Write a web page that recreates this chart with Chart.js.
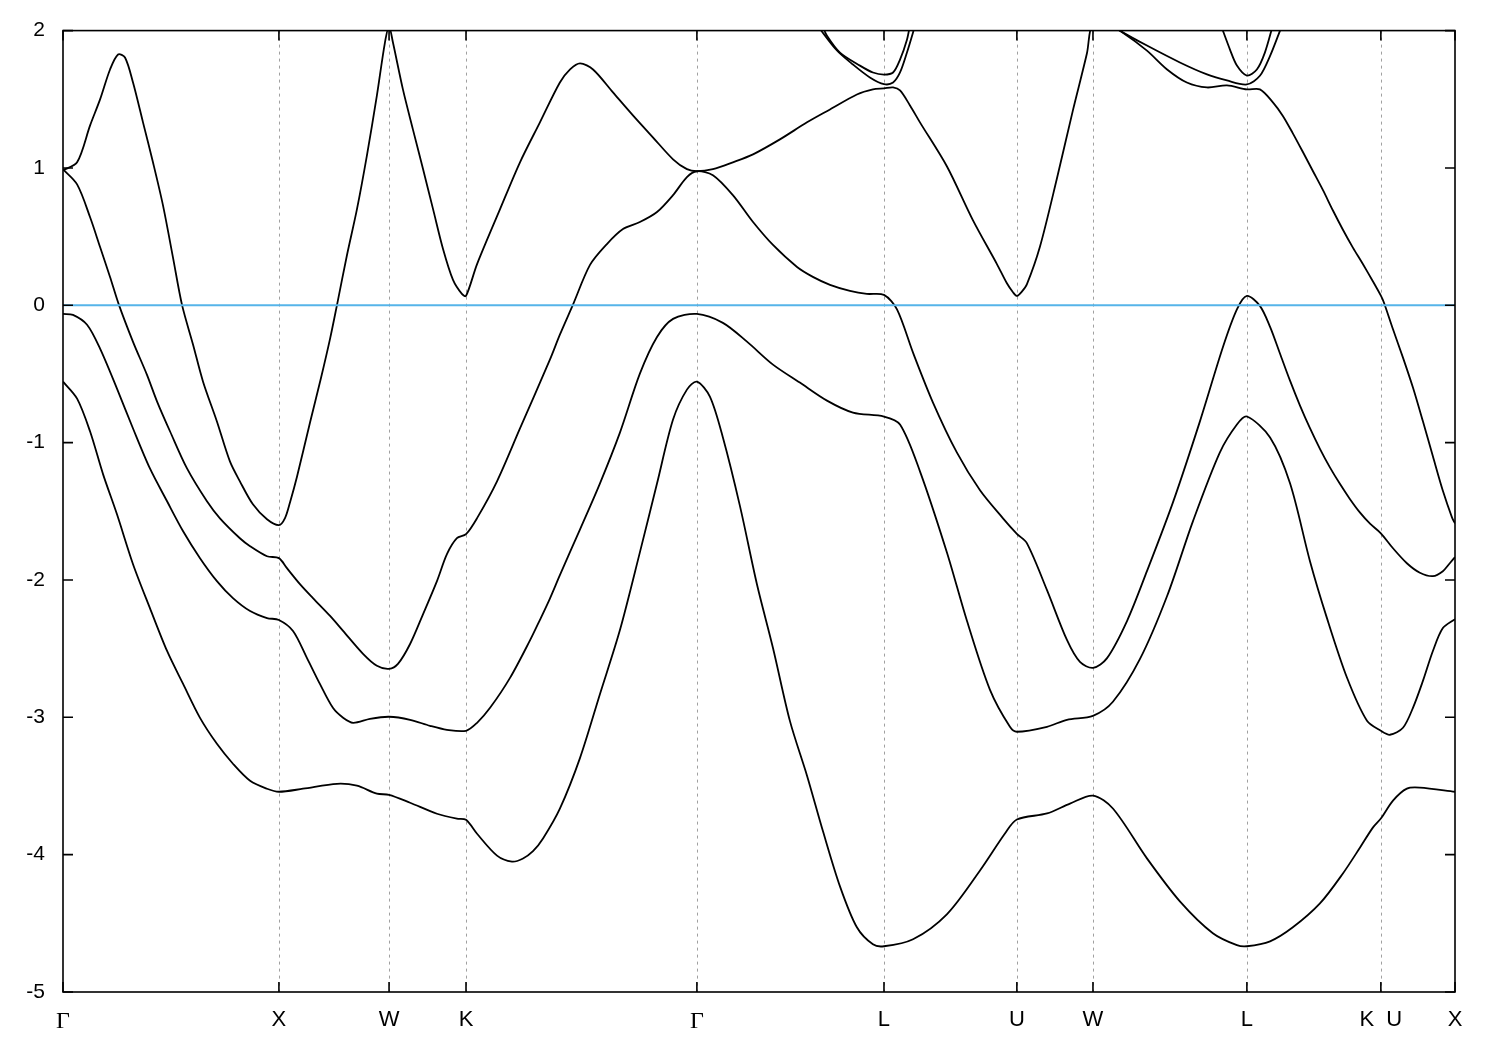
<!DOCTYPE html>
<html>
<head>
<meta charset="utf-8">
<title>Band structure</title>
<script src="https://cdn.jsdelivr.net/npm/chart.js@4.4.1/dist/chart.umd.min.js"></script>
<style>
  body { margin: 0; background: #fff; }
  #wrap { width: 1500px; height: 1050px; }
</style>
</head>
<body>
<div id="wrap"><canvas id="bands" width="1500" height="1050"></canvas></div>
<script>
// high-symmetry points along the path (k in 2pi/a)
const kTicks = [0, 0.996, 1.504, 1.859, 2.924, 3.787, 4.400, 4.751, 5.461, 6.079, 6.421];
const kLabels = ['Γ', 'X', 'W', 'K', 'Γ', 'L', 'U', 'W', 'L', 'K  U', 'X'];
const energyTicks = [-5, -4, -3, -2, -1, 0, 1, 2];
const fermiLevel = 0;

// bands as [k, E(eV)]
const band1 = [
  [0,-0.556],[0.065,-0.68],[0.125,-0.919],[0.185,-1.231],[0.249,-1.522],[0.323,-1.885],[0.401,-2.205],[0.48,-2.517],[0.554,-2.757],[0.632,-3.004],[0.71,-3.193],[0.784,-3.338],[0.863,-3.462],[0.941,-3.52],[0.996,-3.542],
  [1.107,-3.52],[1.264,-3.484],[1.356,-3.498],[1.448,-3.556],[1.504,-3.564],[1.601,-3.622],[1.725,-3.702],[1.817,-3.738],[1.859,-3.746],
  [1.91,-3.848],[2.002,-4.007],[2.071,-4.051],[2.12,-4.03],[2.168,-3.975],[2.215,-3.88],[2.292,-3.665],[2.385,-3.295],[2.477,-2.83],[2.569,-2.365],[2.661,-1.799],[2.74,-1.298],[2.814,-0.832],[2.878,-0.614],[2.924,-0.556],
  [2.984,-0.665],[3.044,-0.963],[3.123,-1.464],[3.201,-2.031],[3.275,-2.495],[3.353,-3.026],[3.432,-3.425],[3.506,-3.832],[3.584,-4.231],[3.662,-4.529],[3.736,-4.653],[3.787,-4.667],
  [3.921,-4.616],[4.077,-4.434],[4.23,-4.115],[4.345,-3.846],[4.4,-3.744],[4.539,-3.7],[4.645,-3.628],[4.751,-3.57],
  [4.843,-3.664],[5.0,-4.027],[5.152,-4.34],[5.304,-4.572],[5.415,-4.659],[5.461,-4.667],
  [5.568,-4.631],[5.673,-4.529],[5.798,-4.355],[5.904,-4.137],[5.983,-3.948],[6.042,-3.803],[6.079,-3.737],[6.135,-3.606],[6.199,-3.519],[6.259,-3.512],[6.421,-3.542]
];
const band2 = [
  [0,-0.063],[0.046,-0.07],[0.111,-0.142],[0.171,-0.316],[0.249,-0.607],[0.323,-0.897],[0.401,-1.188],[0.48,-1.427],[0.554,-1.645],[0.632,-1.841],[0.71,-2.008],[0.784,-2.132],[0.863,-2.226],[0.941,-2.277],[0.996,-2.291],
  [1.061,-2.371],[1.125,-2.567],[1.185,-2.757],[1.245,-2.931],[1.292,-3.003],[1.338,-3.04],[1.416,-3.011],[1.504,-2.996],[1.601,-3.018],[1.693,-3.062],[1.771,-3.091],[1.859,-3.098],
  [1.91,-3.04],[1.97,-2.931],[2.062,-2.713],[2.154,-2.44],[2.2,-2.29],[2.246,-2.135],[2.292,-1.965],[2.385,-1.631],[2.477,-1.296],[2.569,-0.927],[2.661,-0.498],[2.74,-0.231],[2.814,-0.099],[2.924,-0.063],
  [3.044,-0.128],[3.155,-0.265],[3.275,-0.432],[3.399,-0.563],[3.524,-0.694],[3.644,-0.781],[3.787,-0.81],
  [3.861,-0.868],[3.953,-1.209],[4.077,-1.798],[4.17,-2.299],[4.276,-2.8],[4.368,-3.069],[4.4,-3.105],[4.539,-3.069],[4.631,-3.018],[4.751,-2.989],
  [4.843,-2.887],[4.968,-2.575],[5.093,-2.117],[5.212,-1.573],[5.336,-1.072],[5.415,-0.868],[5.461,-0.81],
  [5.568,-0.962],[5.66,-1.296],[5.752,-1.863],[5.83,-2.276],[5.923,-2.712],[6.015,-3.025],[6.079,-3.098],[6.121,-3.127],[6.181,-3.076],[6.227,-2.931],[6.273,-2.735],[6.319,-2.517],[6.365,-2.35],[6.421,-2.285]
];
const band3 = [
  [0,0.99],[0.065,0.88],[0.125,0.641],[0.171,0.424],[0.217,0.206],[0.258,0.003],[0.323,-0.266],[0.387,-0.505],[0.434,-0.701],[0.494,-0.919],[0.572,-1.188],[0.664,-1.427],[0.724,-1.551],[0.816,-1.696],[0.863,-1.754],[0.941,-1.827],[0.996,-1.841],
  [1.033,-1.914],[1.093,-2.03],[1.153,-2.132],[1.232,-2.262],[1.292,-2.371],[1.384,-2.538],[1.448,-2.625],[1.504,-2.647],[1.545,-2.611],[1.601,-2.466],[1.661,-2.248],[1.725,-2.008],[1.771,-1.812],[1.817,-1.696],[1.859,-1.667],
  [1.91,-1.55],[2.002,-1.282],[2.108,-0.897],[2.246,-0.396],[2.292,-0.214],[2.352,0.003],[2.431,0.294],[2.509,0.446],[2.583,0.555],[2.661,0.606],[2.74,0.679],[2.814,0.802],[2.878,0.933],[2.924,0.976],
  [2.998,0.947],[3.09,0.802],[3.183,0.606],[3.275,0.439],[3.386,0.279],[3.459,0.207],[3.538,0.149],[3.63,0.105],[3.708,0.083],[3.787,0.076],
  [3.847,-0.03],[3.921,-0.345],[4.013,-0.708],[4.123,-1.071],[4.23,-1.347],[4.336,-1.551],[4.4,-1.664],[4.446,-1.732],[4.539,-2.074],[4.631,-2.437],[4.691,-2.597],[4.751,-2.64],
  [4.815,-2.571],[4.908,-2.299],[5.0,-1.936],[5.12,-1.435],[5.244,-0.847],[5.351,-0.302],[5.415,-0.03],[5.461,0.068],
  [5.521,-0.004],[5.568,-0.157],[5.614,-0.353],[5.66,-0.549],[5.706,-0.73],[5.752,-0.895],[5.798,-1.045],[5.844,-1.18],[5.89,-1.3],[5.936,-1.41],[5.983,-1.51],[6.029,-1.59],[6.079,-1.66],[6.135,-1.769],[6.199,-1.878],[6.259,-1.947],[6.319,-1.972],[6.365,-1.936],[6.397,-1.878],[6.421,-1.834]
];
const band4 = [
  [0,0.983],[0.065,1.041],[0.125,1.31],[0.171,1.499],[0.217,1.717],[0.254,1.826],[0.286,1.804],[0.323,1.622],[0.369,1.332],[0.415,1.041],[0.461,0.729],[0.507,0.351],[0.549,0.003],[0.6,-0.287],[0.646,-0.556],[0.71,-0.846],[0.77,-1.137],[0.816,-1.282],[0.876,-1.449],[0.941,-1.558],[0.996,-1.601],
  [1.024,-1.55],[1.048,-1.43],[1.079,-1.25],[1.14,-0.85],[1.19,-0.53],[1.232,-0.243],[1.264,0.003],[1.31,0.366],[1.356,0.7],[1.402,1.092],[1.448,1.528],[1.485,1.913],[1.504,2.03],
  [1.522,1.913],[1.568,1.572],[1.614,1.281],[1.661,0.991],[1.707,0.7],[1.753,0.41],[1.799,0.185],[1.84,0.083],[1.859,0.068],
  [1.91,0.3],[2.016,0.7],[2.108,1.041],[2.2,1.332],[2.292,1.622],[2.339,1.717],[2.385,1.761],[2.445,1.717],[2.537,1.55],[2.629,1.383],[2.721,1.223],[2.814,1.063],[2.878,0.991],[2.924,0.976],
  [2.998,0.991],[3.09,1.041],[3.183,1.099],[3.307,1.208],[3.432,1.332],[3.538,1.426],[3.662,1.535],[3.736,1.572],[3.787,1.579],
  [3.829,1.586],[3.861,1.564],[3.907,1.455],[3.953,1.332],[4.077,1.012],[4.197,0.62],[4.308,0.3],[4.354,0.16],[4.382,0.095],[4.4,0.068],
  [4.423,0.1],[4.446,0.152],[4.506,0.424],[4.585,0.925],[4.659,1.423],[4.723,1.833],[4.751,2.06],
  [4.82,2.04],[4.889,1.985],[5.0,1.854],[5.093,1.717],[5.184,1.622],[5.277,1.586],[5.369,1.601],[5.461,1.572],
  [5.521,1.572],[5.581,1.478],[5.627,1.379],[5.673,1.252],[5.72,1.114],[5.766,0.976],[5.812,0.838],[5.858,0.69],[5.904,0.55],[5.95,0.42],[5.996,0.3],[6.042,0.175],[6.079,0.07],[6.093,0.02],[6.135,-0.175],[6.181,-0.381],[6.227,-0.599],[6.273,-0.845],[6.319,-1.1],[6.365,-1.351],[6.407,-1.544],[6.421,-1.588]
];
// upper bands only show up around the L points
const band5a = [[3.483,2.03],[3.57,1.855],[3.644,1.753],[3.722,1.659],[3.787,1.61],[3.829,1.622],[3.861,1.695],[3.893,1.84],[3.921,1.986],[3.93,2.04]];
const band5b = [[4.751,2.12],[4.875,2.0],[5.0,1.891],[5.152,1.768],[5.277,1.681],[5.369,1.637],[5.461,1.608],[5.521,1.671],[5.568,1.816],[5.614,2.0],[5.632,2.07]];
const band6a = [[3.501,2.04],[3.524,1.963],[3.584,1.84],[3.676,1.745],[3.736,1.695],[3.787,1.68],[3.829,1.695],[3.861,1.789],[3.893,1.934],[3.907,2.04]];
const band6b = [[5.341,2.04],[5.383,1.862],[5.415,1.746],[5.461,1.673],[5.507,1.717],[5.544,1.84],[5.581,2.04]];

const allBands = [band1, band2, band3, band4, band5a, band5b, band6a, band6b];

const toPoints = arr => arr.map(p => ({ x: p[0], y: p[1] }));

const datasets = allBands.map(b => ({
  data: toPoints(b),
  borderColor: '#000',
  borderWidth: 1.8,
  pointRadius: 0,
  fill: false,
  tension: 0.3,
  order: 2
}));

// Fermi level
datasets.push({
  data: [{ x: kTicks[0], y: fermiLevel }, { x: kTicks[kTicks.length - 1], y: fermiLevel }],
  borderColor: '#56b4e9',
  borderWidth: 2,
  pointRadius: 0,
  fill: false,
  order: 1
});

const framePlugin = {
  id: 'frame',
  beforeDatasetsDraw(chart) {
    const { ctx, chartArea: a, scales: { x } } = chart;
    ctx.save();
    ctx.strokeStyle = '#a0a0a0';
    ctx.lineWidth = 1;
    ctx.setLineDash([3, 4]);
    kTicks.slice(1, -1).forEach(k => {
      const px = Math.round(x.getPixelForValue(k)) + 0.5;
      ctx.beginPath();
      ctx.moveTo(px, a.top);
      ctx.lineTo(px, a.bottom);
      ctx.stroke();
    });
    ctx.restore();
  },
  afterDatasetsDraw(chart) {
    const { ctx, chartArea: a, scales: { x, y } } = chart;
    const len = 10;
    ctx.save();
    ctx.strokeStyle = '#000';
    ctx.lineWidth = 1.6;
    ctx.strokeRect(a.left, a.top, a.right - a.left, a.bottom - a.top);
    ctx.beginPath();
    energyTicks.forEach(e => {
      const py = y.getPixelForValue(e);
      ctx.moveTo(a.left, py); ctx.lineTo(a.left + len, py);
      ctx.moveTo(a.right, py); ctx.lineTo(a.right - len, py);
    });
    kTicks.forEach(k => {
      const px = x.getPixelForValue(k);
      ctx.moveTo(px, a.bottom); ctx.lineTo(px, a.bottom - len);
      ctx.moveTo(px, a.top); ctx.lineTo(px, a.top + len);
    });
    ctx.stroke();
    ctx.restore();
  }
};

new Chart(document.getElementById('bands'), {
  type: 'line',
  data: { datasets: datasets },
  options: {
    responsive: false,
    animation: false,
    layout: { padding: { left: 0, right: 45, top: 28, bottom: 0 } },
    plugins: { legend: { display: false }, tooltip: { enabled: false } },
    scales: {
      x: {
        type: 'linear',
        min: kTicks[0],
        max: kTicks[kTicks.length - 1],
        afterBuildTicks: axis => { axis.ticks = kTicks.map(v => ({ value: v })); },
        afterFit: s => { s.height = 58; },
        grid: { display: false, drawTicks: false },
        border: { display: false },
        ticks: {
          autoSkip: false,
          maxRotation: 0,
          padding: 15,
          color: '#000',
          font: ctx => kLabels[ctx.index] === 'Γ'
            ? { family: '"Liberation Serif", "DejaVu Serif", serif', size: 24 }
            : { family: '"Liberation Sans", Arial, sans-serif', size: 22 },
          callback: (v, i) => kLabels[i]
        }
      },
      y: {
        min: -5,
        max: 2,
        afterFit: s => { s.width = 63; },
        grid: { display: false, drawTicks: false },
        border: { display: false },
        ticks: {
          stepSize: 1,
          padding: 18,
          color: '#000',
          font: { family: '"Liberation Sans", Arial, sans-serif', size: 21 }
        }
      }
    }
  },
  plugins: [framePlugin]
});
</script>
</body>
</html>
